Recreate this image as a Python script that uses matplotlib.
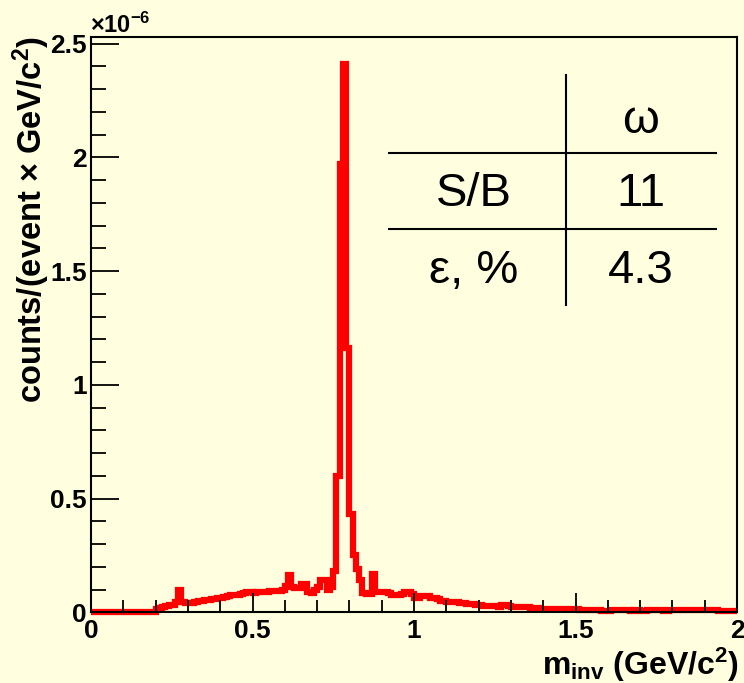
import numpy as np
import matplotlib
matplotlib.use('Agg')
from matplotlib import pyplot as plt
from matplotlib.ticker import MultipleLocator, FuncFormatter

plt.rcParams.update({'font.family': 'Liberation Sans',
                     'mathtext.fontset': 'custom',
                     'mathtext.rm': 'Liberation Sans',
                     'mathtext.bf': 'Liberation Sans:bold',
                     'mathtext.default': 'bf'})

# m_inv histogram, 200 bins of 10 MeV, counts in units of 1e-6
bin_edges = np.linspace(0, 2, 201)
counts = [
    0, 0, 0, 0, 0, 0, 0, 0, 0, 0,
    0, 0, 0, 0, 0, 0, 0, 0, 0, 0,
    0.015, 0.02, 0.022, 0.028, 0.03, 0.034, 0.045, 0.10, 0.045, 0.04,
    0.04, 0.043, 0.045, 0.05, 0.05, 0.054, 0.055, 0.058, 0.06, 0.062,
    0.065, 0.068, 0.072, 0.075, 0.076, 0.078, 0.08, 0.085, 0.088, 0.09,
    0.085, 0.088, 0.09, 0.09, 0.09, 0.092, 0.092, 0.093, 0.095, 0.10,
    0.115, 0.165, 0.11, 0.107, 0.105, 0.125, 0.125, 0.09, 0.085, 0.10,
    0.11, 0.14, 0.14, 0.10, 0.11, 0.18, 0.60, 1.97, 2.41, 1.16,
    0.43, 0.25, 0.19, 0.14, 0.085, 0.08, 0.08, 0.17, 0.09, 0.09,
    0.088, 0.088, 0.085, 0.076, 0.076, 0.076, 0.08, 0.09, 0.09, 0.08,
    0.065, 0.065, 0.072, 0.072, 0.07, 0.062, 0.062, 0.06, 0.05, 0.05,
    0.045, 0.045, 0.045, 0.045, 0.04, 0.04, 0.036, 0.036, 0.035, 0.034,
    0.03, 0.028, 0.027, 0.027, 0.026, 0.026, 0.025, 0.03, 0.03, 0.028,
    0.025, 0.024, 0.023, 0.023, 0.022, 0.022, 0.02, 0.02, 0.017, 0.015,
    0.015, 0.015, 0.015, 0.014, 0.014, 0.014, 0.015, 0.014, 0.013, 0.013,
    0.014, 0.012, 0.012, 0.012, 0.012, 0.01, 0.012, 0.012, 0.005, 0.004,
    0.004, 0.01, 0.012, 0.012, 0.01, 0.012, 0.012, 0.006, 0.01, 0.011,
    0.006, 0.006, 0.008, 0.008, 0.008, 0.01, 0.01, 0.006, 0.006, 0.01,
    0.01, 0.01, 0.01, 0.01, 0.01, 0.01, 0.008, 0.008, 0.01, 0.01,
    0.01, 0.008, 0.008, 0.008, 0.006, 0.006, 0.006, 0.006, 0.006, 0.005,
]

table_rows = [['', 'ω'], ['S/B', '11'], ['ε, %', '4.3']]

bg = '#FFFFE0'
W, H = 744, 683
fig = plt.figure(figsize=(W / 100, H / 100), dpi=100, facecolor=bg)
ax = fig.add_axes([91 / W, 1 - 612.3 / H, 646 / W, 575.6 / H], facecolor=bg)

ax.stairs(counts, bin_edges, color='red', lw=4.5, baseline=None, clip_on=False)

ax.set_xlim(0, 2)
ax.set_ylim(0, 2.53)
ax.xaxis.set_major_locator(MultipleLocator(0.5))
ax.xaxis.set_minor_locator(MultipleLocator(0.1))
ax.yaxis.set_major_locator(MultipleLocator(0.5))
ax.yaxis.set_minor_locator(MultipleLocator(0.1))
fmt = FuncFormatter(lambda v, p: f'{v:g}')
ax.xaxis.set_major_formatter(fmt)
ax.yaxis.set_major_formatter(fmt)
ax.tick_params(which='both', direction='in', width=1.3, labelsize=19)
ax.tick_params(axis='x', which='major', length=14, pad=5)
ax.tick_params(axis='x', which='minor', length=9)
ax.tick_params(axis='y', which='major', length=20, pad=3)
ax.tick_params(axis='y', which='minor', length=11)
for lab in ax.get_xticklabels() + ax.get_yticklabels():
    lab.set_fontweight('bold')
for s in ax.spines.values():
    s.set_linewidth(1.5)

# axis titles, ROOT style (right / top aligned)
fig.text(739 / W, 1 - 675 / H, r'$m_{inv}$ (GeV/c$^{2}$)', ha='right',
         va='baseline', fontsize=23, fontweight='bold')
fig.text(31 / W, 1 - 36 / H, r'counts/(event $\times$ GeV/c$^{2}$)',
         rotation=90, ha='center', va='top', fontsize=23.5, fontweight='bold')
fig.text(90 / W, 1 - 33 / H, r'$\times$10$^{-6}$', ha='left', va='baseline',
         fontsize=17, fontweight='bold')

# S/B and efficiency table
to_ax = lambda px, py: ax.transAxes.inverted().transform(
    fig.transFigure.transform((px / W, 1 - py / H)))
for (x0, y0), (x1, y1) in [((389, 153), (716, 153)), ((389, 229), (716, 229)),
                           ((566, 75), (566, 305))]:
    p0, p1 = to_ax(x0, y0), to_ax(x1, y1)
    ax.plot([p0[0], p1[0]], [p0[1], p1[1]], color='black', lw=1.5,
            transform=ax.transAxes)
col_x = [474, 641]
row_y = [121, 194, 271]
for r, row in enumerate(table_rows):
    for c, txt in enumerate(row):
        if txt:
            fig.text(col_x[c] / W, 1 - row_y[r] / H, txt, ha='center',
                     va='center', fontsize=34)

fig.savefig('out.png', dpi=100, facecolor=bg)
